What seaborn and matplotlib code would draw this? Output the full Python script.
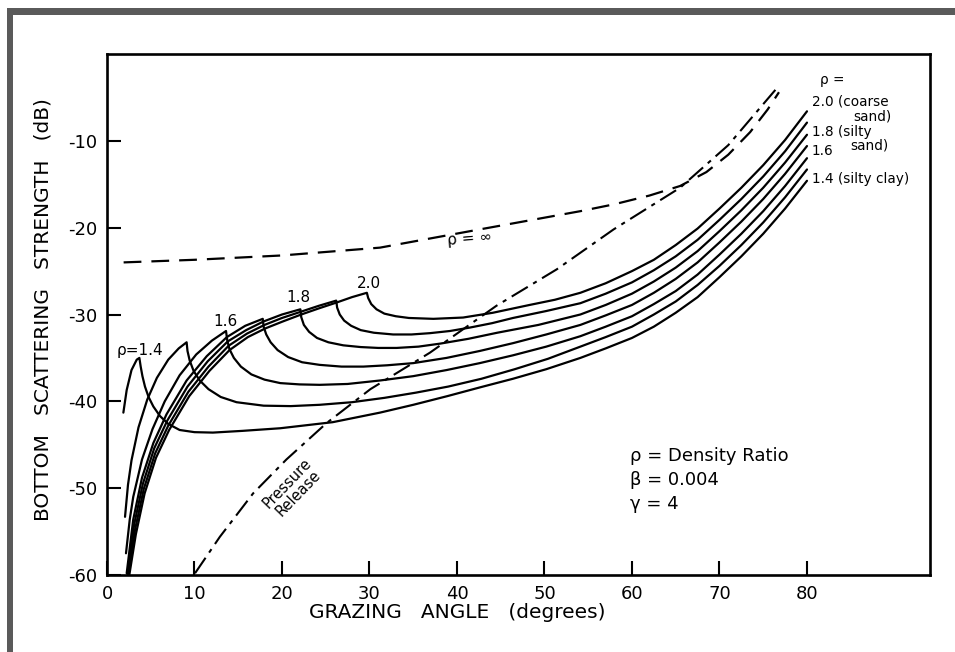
import matplotlib
matplotlib.use("Agg")
import matplotlib.pyplot as plt
import seaborn as sns
import pandas as pd
from matplotlib.patches import Rectangle

sns.set_theme(style="white")
plt.rcParams['font.family'] = ['DejaVu Sans']
plt.rcParams['axes.unicode_minus'] = False
plt.rcParams['text.color'] = 'black'
plt.rcParams['axes.labelcolor'] = 'black'
plt.rcParams['xtick.color'] = 'black'
plt.rcParams['ytick.color'] = 'black'

# ---------------- data ----------------
rho_labels = ["1.4", "1.5", "1.6", "1.7", "1.8", "1.9", "2.0"]

rho14_x = [1.87, 2.25, 2.8, 3.4, 3.7, 3.85, 4.05, 4.34, 4.75, 5.3, 6.06, 7.0, 8.3, 10.0, 12.1, 15.5, 19.8, 25.8, 31.2, 35.0, 38.9, 42.6, 46.4, 50.2, 54.1, 57, 60, 62.5, 65, 67.5, 70, 72.5, 75, 77.5, 80]
rho14_y = [-41.3, -38.7, -36.4, -35.2, -35.0, -36.0, -37.1, -38.3, -39.5, -40.6, -41.7, -42.6, -43.3, -43.55, -43.6, -43.4, -43.1, -42.4, -41.3, -40.4, -39.4, -38.4, -37.4, -36.3, -35.0, -33.9, -32.7, -31.4, -29.8, -28.0, -25.7, -23.3, -20.7, -17.8, -14.6]

rho15_x = [2.06, 2.4, 2.8, 3.6, 4.6, 5.7, 7.0, 8.2, 9.1, 9.2, 9.45, 9.9, 10.6, 11.6, 13.0, 14.8, 17.9, 21.0, 24.3, 28.0, 31.7, 35.3, 39.0, 42.8, 46.6, 50.4, 54.1, 57, 60, 62.5, 65, 67.5, 70, 72.5, 75, 77.5, 80]
rho15_y = [-53.3, -49.6, -46.8, -43.0, -39.8, -37.3, -35.2, -33.9, -33.2, -34.2, -35.3, -36.5, -37.6, -38.6, -39.5, -40.1, -40.5, -40.55, -40.4, -40.1, -39.6, -39.0, -38.3, -37.4, -36.3, -35.1, -33.7, -32.6, -31.4, -30.0, -28.5, -26.6, -24.4, -22.0, -19.4, -16.5, -13.3]

rho16_x = [2.17, 2.6, 3.0, 4.0, 5.2, 6.6, 8.3, 10.2, 12.0, 13.6, 13.75, 14.0, 14.5, 15.3, 16.5, 18.0, 19.8, 22.0, 24.3, 27.5, 31.2, 35.0, 38.8, 42.6, 46.4, 50.2, 54.1, 57, 60, 62.5, 65, 67.5, 70, 72.5, 75, 77.5, 80]
rho16_y = [-57.5, -53.6, -51.0, -46.7, -43.2, -40.0, -37.0, -34.6, -33.0, -31.9, -33.0, -34.0, -35.0, -36.0, -36.9, -37.5, -37.9, -38.05, -38.1, -38.0, -37.6, -37.1, -36.4, -35.6, -34.7, -33.7, -32.5, -31.4, -30.2, -28.8, -27.3, -25.4, -23.1, -20.7, -18.1, -15.2, -12.0]

rho17_x = [2.25, 3.0, 4.0, 5.3, 6.8, 9.1, 11.4, 13.7, 15.8, 17.8, 17.9, 18.2, 18.7, 19.5, 20.7, 22.3, 24.3, 26.8, 29.3, 32.0, 35.0, 38.8, 42.6, 46.4, 50.2, 54.1, 57, 60, 62.5, 65, 67.5, 70, 72.5, 75, 77.5, 80]
rho17_y = [-59.8, -53.6, -48.8, -44.8, -41.5, -37.6, -34.8, -32.6, -31.3, -30.5, -31.4, -32.3, -33.2, -34.1, -34.9, -35.5, -35.8, -36.0, -36.0, -35.85, -35.6, -35.0, -34.2, -33.3, -32.3, -31.2, -30.1, -28.9, -27.5, -25.9, -24.0, -21.7, -19.3, -16.7, -13.8, -10.6]

rho18_x = [2.35, 3.1, 4.1, 5.4, 6.9, 9.2, 11.5, 13.8, 15.9, 17.9, 20.0, 22.1, 22.2, 22.5, 23.1, 24.0, 25.3, 27.0, 29.0, 31.0, 33.1, 35.6, 38.1, 41.3, 44.6, 49.3, 54.1, 57, 60, 62.5, 65, 67.5, 70, 72.5, 75, 77.5, 80]
rho18_y = [-60.0, -54.2, -49.5, -45.4, -42.2, -38.3, -35.4, -33.1, -31.8, -30.8, -30.0, -29.4, -30.3, -31.2, -32.0, -32.7, -33.2, -33.55, -33.75, -33.85, -33.85, -33.7, -33.35, -32.8, -32.1, -31.2, -30.0, -28.9, -27.6, -26.2, -24.6, -22.7, -20.4, -18.0, -15.4, -12.5, -9.3]

rho19_x = [2.45, 3.2, 4.2, 5.5, 7.0, 9.3, 11.6, 13.9, 16.0, 18.0, 20.0, 22.1, 24.2, 26.2, 26.3, 26.6, 27.1, 27.9, 29.0, 30.5, 32.7, 34.8, 36.9, 39.2, 41.5, 44.0, 46.4, 50.2, 54.1, 57, 60, 62.5, 65, 67.5, 70, 72.5, 75, 77.5, 80]
rho19_y = [-60.0, -54.8, -50.1, -46.0, -42.8, -38.9, -36.0, -33.6, -32.2, -31.2, -30.4, -29.7, -29.0, -28.4, -29.2, -30.0, -30.7, -31.3, -31.8, -32.1, -32.3, -32.3, -32.15, -31.9, -31.5, -31.0, -30.4, -29.6, -28.7, -27.6, -26.3, -24.9, -23.3, -21.4, -19.1, -16.7, -14.1, -11.2, -7.9]

rho20_x = [2.55, 3.3, 4.3, 5.6, 7.1, 9.4, 11.7, 14.0, 16.1, 18.1, 20.1, 22.2, 24.2, 26.3, 28.0, 29.7, 29.85, 30.2, 30.8, 31.7, 33.0, 34.5, 37.3, 40.7, 44.1, 48.3, 51.2, 54.1, 57, 60, 62.5, 65, 67.5, 70, 72.5, 75, 77.5, 80]
rho20_y = [-60.0, -55.3, -50.6, -46.5, -43.3, -39.4, -36.5, -34.1, -32.6, -31.6, -30.8, -30.0, -29.3, -28.6, -28.0, -27.5, -28.1, -28.8, -29.4, -29.9, -30.2, -30.4, -30.5, -30.35, -29.8, -28.9, -28.3, -27.5, -26.4, -25.0, -23.7, -22.0, -20.1, -17.8, -15.4, -12.8, -9.9, -6.6]

rho_inf_x = [1.9, 10, 20, 31.2, 42.6, 54.1, 58, 62, 65.5, 68.5, 71, 73.5, 75.5, 76.8]
rho_inf_y = [-24.0, -23.7, -23.2, -22.3, -20.2, -18.1, -17.3, -16.3, -15.2, -13.6, -11.6, -9.0, -6.4, -4.4]

release_x = [10.06, 12.9, 16.7, 20.5, 25.1, 30.1, 36.9, 44.5, 51.4, 57.9, 65.5, 71.0, 76.5]
release_y = [-59.8, -55.6, -50.6, -46.7, -42.5, -38.6, -34.4, -29.0, -24.8, -20.2, -15.4, -10.5, -4.0]

x_ticks = [0, 10, 20, 30, 40, 50, 60, 70, 80]
y_ticks = [-60, -50, -40, -30, -20, -10]

# ---------------- build long-form table ----------------
curves_x = [rho14_x, rho15_x, rho16_x, rho17_x, rho18_x, rho19_x, rho20_x]
curves_y = [rho14_y, rho15_y, rho16_y, rho17_y, rho18_y, rho19_y, rho20_y]
frames = []
for lab, xs, ys in zip(rho_labels, curves_x, curves_y):
    frames.append(pd.DataFrame({"angle": xs, "ss": ys, "rho": lab}))
df = pd.concat(frames, ignore_index=True)

# ---------------- figure ----------------
fig = plt.figure(figsize=(9.55, 6.52), dpi=100)
fig.patch.set_facecolor('white')

# grey frame (top and left)
fig.add_artist(Rectangle((7/955, (652-15)/652), 948/955, 7/652, transform=fig.transFigure,
                         facecolor='#5a5a5a', edgecolor='none'))
fig.add_artist(Rectangle((7/955, 0), 6/955, 644/652, transform=fig.transFigure,
                         facecolor='#5a5a5a', edgecolor='none'))

ax = fig.add_axes([107/955, 77/652, 823/955, 521/652])
ax.set_facecolor('white')

sns.lineplot(data=df, x="angle", y="ss", units="rho", estimator=None, sort=False,
             color='black', lw=1.6, legend=False, ax=ax)
sns.lineplot(x=rho_inf_x, y=rho_inf_y, sort=False, estimator=None, color='black',
             lw=1.6, linestyle=(0, (8, 4.5)), ax=ax)
sns.lineplot(x=release_x, y=release_y, sort=False, estimator=None, color='black',
             lw=1.5, linestyle=(0, (9, 3, 2, 3)), ax=ax)

ax.set_xlim(0, 94.06)
ax.set_ylim(-60, 0)
ax.set_xticks(x_ticks)
ax.set_yticks(y_ticks)
ax.set_xticklabels([str(t) for t in x_ticks])
ax.set_yticklabels([str(t) for t in y_ticks])
ax.tick_params(direction='in', length=10, width=1.5, labelsize=13, pad=7,
               bottom=True, left=True, top=False, right=False, colors='black')
for s in ax.spines.values():
    s.set_color('black')
    s.set_linewidth(1.9)

ax.set_xlabel('GRAZING   ANGLE   (degrees)', fontsize=14.5)
ax.xaxis.set_label_coords(0.425, -0.054)
ax.set_ylabel('BOTTOM   SCATTERING   STRENGTH   (dB)', fontsize=14.5)
ax.yaxis.set_label_coords(-0.066, 0.509)

txt = dict(color='black', ha='center', va='center')
ax.text(3.77, -34.1, 'ρ=1.4', fontsize=11, **txt)
ax.text(13.5, -30.75, '1.6', fontsize=11, **txt)
ax.text(21.9, -28.0, '1.8', fontsize=11, **txt)
ax.text(29.9, -26.4, '2.0', fontsize=11, **txt)
ax.text(41.5, -21.2, 'ρ = ∞', fontsize=11, rotation=5, **txt)
ax.text(21.2, -50.0, 'Pressure\nRelease', fontsize=10.5, rotation=46,
        ha='center', va='center', multialignment='center', linespacing=1.0)

rt = dict(color='black', ha='left', va='center', fontsize=9.8)
ax.text(81.5, -3.0, 'ρ =', **rt)
ax.text(80.57, -5.5, '2.0 (coarse', **rt)
ax.text(85.26, -7.15, 'sand)', **rt)
ax.text(80.57, -8.95, '1.8 (silty', **rt)
ax.text(84.9, -10.5, 'sand)', **rt)
ax.text(80.57, -11.2, '1.6', **rt)
ax.text(80.57, -14.4, '1.4 (silty clay)', **rt)

at = dict(color='black', ha='left', va='center', fontsize=13)
ax.text(59.8, -46.3, 'ρ = Density Ratio', **at)
ax.text(59.8, -49.06, 'β = 0.004', **at)
ax.text(59.8, -51.8, 'γ = 4', **at)

fig.savefig('out.png', dpi=100, facecolor='white')
